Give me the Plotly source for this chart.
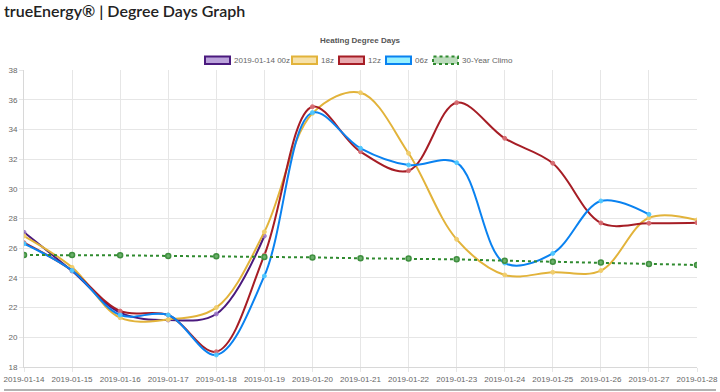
import plotly.graph_objects as go

dates = ["2019-01-14", "2019-01-15", "2019-01-16", "2019-01-17", "2019-01-18",
         "2019-01-19", "2019-01-20", "2019-01-21", "2019-01-22", "2019-01-23",
         "2019-01-24", "2019-01-25", "2019-01-26", "2019-01-27", "2019-01-28"]

run_00z = [27.07, 24.46, 21.66, 21.16, 21.57, 26.82]
run_18z = [26.82, 24.71, 21.32, 21.2, 22.0, 27.1, 35.08, 36.47, 32.39, 26.6,
           24.2, 24.38, 24.49, 28.05, 27.9]
run_12z = [26.37, 24.5, 21.77, 21.5, 19.03, 25.54, 35.53, 32.5, 31.22, 35.8,
           33.4, 31.72, 27.7, 27.68, 27.72]
run_06z = [26.3, 24.5, 21.5, 21.5, 18.81, 24.13, 35.13, 32.73, 31.6, 31.76,
           25.0, 25.65, 29.18, 28.28]
climo = [25.54, 25.54, 25.52, 25.48, 25.46, 25.4, 25.38, 25.32, 25.3, 25.25,
         25.16, 25.09, 25.03, 24.94, 24.87]

series = [
    ("2019-01-14 00z", run_00z, "#4b1a7e", "rgba(155,120,200,0.85)"),
    ("18z", run_18z, "#e2b33a", "rgba(240,205,110,0.95)"),
    ("12z", run_12z, "#a61d25", "rgba(215,110,115,0.95)"),
    ("06z", run_06z, "#0a82f0", "rgba(80,200,255,0.95)"),
]

fig = go.Figure()
for name, vals, lc, fc in series:
    fig.add_trace(go.Scatter(
        x=dates[:len(vals)], y=vals, name=name, mode="lines+markers",
        line=dict(color=lc, width=2, shape="spline", smoothing=1.0),
        marker=dict(size=4, color=fc, line=dict(color=fc, width=1)),
        showlegend=False))

fig.add_trace(go.Scatter(
    x=dates, y=climo, name="30-Year Climo", mode="lines+markers",
    line=dict(color="#2f8a2f", width=2, dash="dot"),
    marker=dict(size=5, color="#6ab06a", line=dict(color="#3f8f3f", width=1.5)),
    showlegend=False))

W, H = 720, 392
L, R, T, B = 24, 23, 70, 25
pw, ph = W - L - R, H - T - B

def px(x):
    return (x - L) / pw

def py(y):
    return (H - B - y) / ph

shapes = []
annotations = []
legend_items = [
    ("2019-01-14 00z", "#4b1a7e", "rgba(170,140,210,0.8)", 205, "solid"),
    ("18z", "#e2b33a", "rgba(245,222,160,0.9)", 292, "solid"),
    ("12z", "#a61d25", "rgba(230,160,165,0.9)", 339, "solid"),
    ("06z", "#0a82f0", "rgba(140,240,255,0.9)", 386, "solid"),
    ("30-Year Climo", "#2f8a2f", "rgba(180,215,180,0.9)", 433, "dot"),
]
for label, lc, fc, x0, dash in legend_items:
    shapes.append(dict(type="rect", xref="paper", yref="paper",
                       x0=px(x0), x1=px(x0 + 25), y0=py(64), y1=py(56.5),
                       fillcolor=fc, line=dict(color=lc, width=2, dash=dash)))
    annotations.append(dict(text=label, xref="paper", yref="paper",
                            x=px(x0 + 27), y=py(60.3), xanchor="left", yanchor="middle",
                            showarrow=False,
                            font=dict(family="Liberation Sans, Arial", size=8, color="#666")))

annotations.append(dict(text="<b>Heating Degree Days</b>", xref="paper", yref="paper",
                        x=px(360), y=py(40), xanchor="center", yanchor="middle",
                        showarrow=False,
                        font=dict(family="Liberation Sans, Arial", size=8, color="#555")))
annotations.append(dict(text="trueEnergy® | Degree Days Graph", xref="paper", yref="paper",
                        x=px(2), y=py(11), xanchor="left", yanchor="middle",
                        showarrow=False,
                        font=dict(family="Lato, Open Sans", size=16, color="#222", weight=600)))
shapes.append(dict(type="line", xref="paper", yref="paper",
                   x0=px(4), x1=px(716), y0=py(390), y1=py(390),
                   line=dict(color="#999", width=1.5)))

fig.update_layout(
    width=W, height=H,
    margin=dict(l=L, r=R, t=T, b=B, autoexpand=False),
    paper_bgcolor="white", plot_bgcolor="white",
    shapes=shapes, annotations=annotations,
    showlegend=False,
    xaxis=dict(type="category", range=[0, 14], showgrid=True, gridcolor="#e6e6e6",
               gridwidth=1, showline=True, linecolor="#d8d8d8", ticks="outside",
               ticklen=4, tickcolor="#e6e6e6", automargin=False,
               tickfont=dict(family="Liberation Sans, Arial", size=8, color="#666"),
               tickangle=0, zeroline=False),
    yaxis=dict(range=[18, 38], dtick=2, showgrid=True, gridcolor="#e6e6e6",
               showline=True, linecolor="#d8d8d8", ticks="outside", ticklen=4,
               tickcolor="#e6e6e6", automargin=False,
               tickfont=dict(family="Liberation Sans, Arial", size=8, color="#666"),
               zeroline=False),
)

fig.write_html("out.html", config={"displayModeBar": False},
               post_script="document.body.style.margin='0px';document.body.style.overflow='hidden';")
